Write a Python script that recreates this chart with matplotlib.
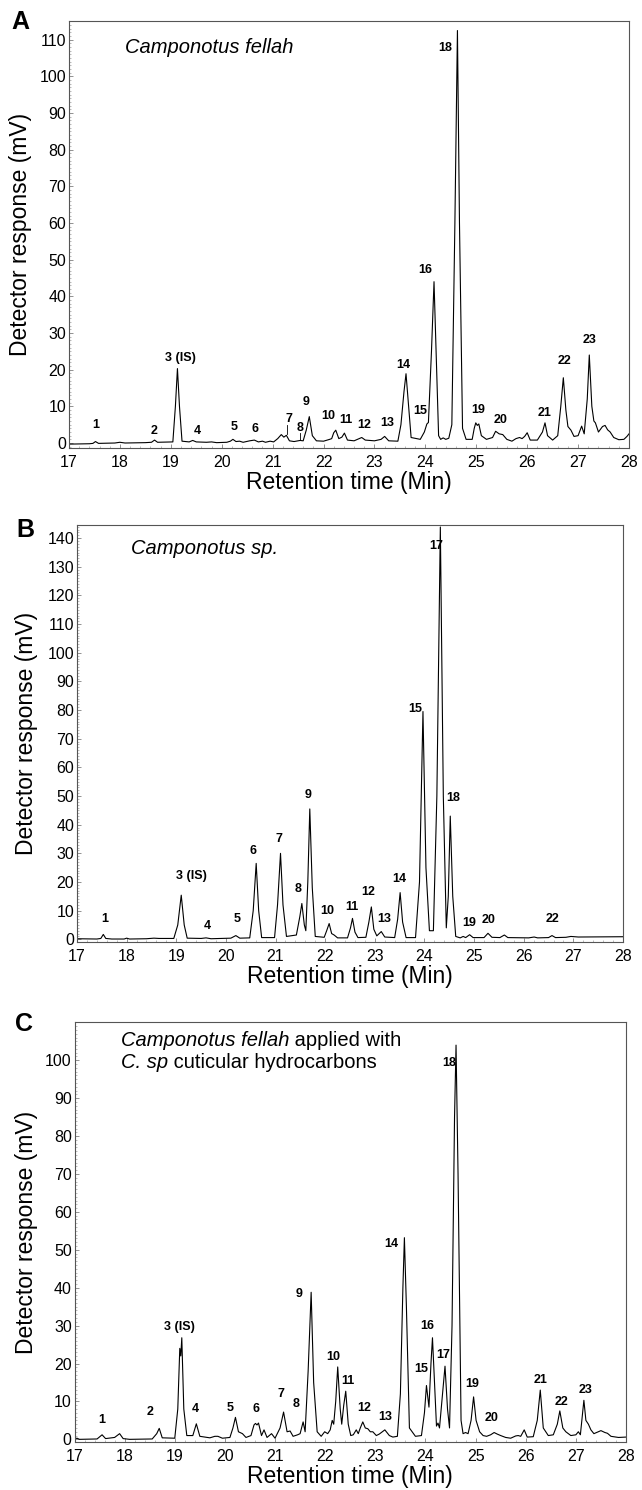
import matplotlib
matplotlib.use("Agg")
import matplotlib.pyplot as plt
from matplotlib.ticker import MultipleLocator

plt.rcParams['font.family'] = ['Liberation Sans', 'DejaVu Sans']

# ---- panel A: Camponotus fellah (time min, response mV) ----
t_a = [17.00, 17.40, 17.47, 17.52, 17.58, 17.90, 18.00, 18.10, 18.50, 18.62, 18.68, 18.74,
       19.04, 19.09, 19.13, 19.17, 19.22, 19.36, 19.43, 19.50, 19.70, 19.80, 19.90, 20.10,
       20.17, 20.22, 20.28, 20.35, 20.42, 20.55, 20.64, 20.72, 20.80, 20.86, 20.95, 21.02,
       21.10, 21.17, 21.22, 21.27, 21.33, 21.42, 21.54, 21.60, 21.66, 21.72, 21.78, 21.86,
       22.00, 22.12, 22.16, 22.20, 22.24, 22.30, 22.36, 22.41, 22.47, 22.60, 22.70, 22.75,
       22.82, 23.00, 23.13, 23.20, 23.28, 23.46, 23.52, 23.58, 23.62, 23.66, 23.72, 23.90,
       23.98, 24.03, 24.06, 24.12, 24.17, 24.21, 24.26, 24.30, 24.35, 24.40, 24.46, 24.52,
       24.58, 24.63, 24.67, 24.73, 24.80, 24.92, 24.96, 24.99, 25.02, 25.05, 25.10, 25.20,
       25.32, 25.38, 25.45, 25.52, 25.60, 25.70, 25.78, 25.85, 25.90, 25.95, 26.00, 26.06,
       26.20, 26.30, 26.35, 26.40, 26.50, 26.60, 26.66, 26.71, 26.76, 26.80, 26.86, 26.92,
       27.00, 27.07, 27.12, 27.18, 27.22, 27.27, 27.31, 27.34, 27.40, 27.48, 27.53, 27.58,
       27.63, 27.70, 27.80, 27.90, 27.96, 28.00]
y_a = [-0.3, -0.2, -0.1, 0.4, -0.1, 0.0, 0.2, 0.0, 0.1, 0.2, 0.8, 0.2,
       0.3, 10.0, 20.3, 10.0, 0.5, 0.3, 0.7, 0.3, 0.2, 0.3, 0.1, 0.2,
       0.5, 1.0, 0.4, 0.5, 0.2, 0.6, 0.8, 0.3, 0.5, 0.2, 0.5, 0.3,
       1.2, 2.3, 1.6, 2.1, 0.6, 0.4, 0.7, 0.6, 3.5, 7.2, 2.0, 0.6,
       0.5, 1.0, 1.2, 2.8, 3.5, 1.2, 1.6, 2.7, 0.8, 0.6, 1.2, 1.5,
       0.8, 0.6, 1.0, 1.8, 0.6, 0.5, 5.0, 14.0, 18.9, 12.0, 1.5, 1.0,
       3.0, 5.2, 5.6, 25.0, 44.0, 25.0, 2.0, 1.0, 1.4, 1.0, 1.3, 5.0,
       60.0, 112.5, 60.0, 4.0, 1.0, 1.0, 4.0, 5.5, 4.8, 5.2, 2.0, 1.0,
       1.5, 3.2, 2.5, 2.3, 1.0, 0.5, 1.2, 1.5, 1.2, 1.8, 2.8, 0.8,
       0.8, 3.0, 5.5, 2.0, 0.8, 2.0, 10.0, 17.8, 9.0, 4.5, 3.5, 1.8,
       2.0, 4.6, 2.5, 12.0, 24.0, 10.0, 6.0, 5.5, 3.0, 4.5, 4.8, 3.6,
       3.0, 1.5, 0.9, 1.0, 1.8, 2.5]
lab_a = ['1', '2', '3 (IS)', '4', '5', '6', '7', '8', '9', '10', '11', '12', '13', '14',
         '15', '16', '18', '19', '20', '21', '22', '23']
lab_a_x = [17.52, 18.68, 19.19, 19.53, 20.25, 20.65, 21.32, 21.54, 21.65, 22.10, 22.44, 22.80,
           23.25, 23.56, 23.90, 24.00, 24.39, 25.03, 25.48, 26.34, 26.73, 27.23]
lab_a_y = [5.0, 3.4, 23.2, 3.2, 4.3, 3.8, 6.5, 4.1, 11.1, 7.5, 6.4, 5.0,
           5.4, 21.4, 8.6, 47.3, 107.8, 9.0, 6.3, 8.3, 22.5, 28.1]
# short leader lines under labels 7 and 8: (x, from y, to y)
lead_a = [(21.28, 5.0, 2.4), (21.54, 2.6, 0.9)]

# ---- panel B: Camponotus sp. ----
t_b = [17.00, 17.40, 17.48, 17.53, 17.58, 17.70, 17.95, 18.00, 18.06, 18.40, 18.55, 18.65,
       18.95, 19.03, 19.10, 19.16, 19.22, 19.50, 19.60, 19.70, 20.10, 20.20, 20.28, 20.48,
       20.55, 20.61, 20.66, 20.72, 20.98, 21.04, 21.10, 21.15, 21.22, 21.42, 21.49, 21.53,
       21.58, 21.61, 21.65, 21.69, 21.74, 21.80, 21.98, 22.03, 22.08, 22.13, 22.18, 22.25,
       22.45, 22.51, 22.55, 22.60, 22.66, 22.82, 22.88, 22.93, 22.98, 23.04, 23.13, 23.20,
       23.40, 23.46, 23.51, 23.56, 23.63, 23.82, 23.90, 23.97, 24.03, 24.10, 24.18, 24.25,
       24.32, 24.38, 24.44, 24.48, 24.52, 24.57, 24.63, 24.72, 24.78, 24.83, 24.91, 24.98,
       25.20, 25.28, 25.36, 25.52, 25.61, 25.68, 26.10, 26.21, 26.28, 26.50, 26.57, 26.64,
       26.85, 26.95, 27.10, 28.00]
y_b = [0.2, 0.1, 0.3, 1.7, 0.3, 0.1, 0.1, 0.4, 0.1, 0.2, 0.4, 0.3,
       0.3, 5.0, 15.4, 5.0, 0.4, 0.3, 0.5, 0.2, 0.4, 1.3, 0.4, 0.5,
       10.0, 26.5, 10.0, 0.6, 0.6, 12.0, 30.0, 12.0, 1.0, 1.5, 8.0, 12.5,
       5.0, 3.0, 20.0, 45.5, 18.0, 1.0, 0.7, 3.0, 5.5, 2.0, 1.5, 0.5,
       0.5, 4.0, 7.3, 2.5, 0.6, 0.7, 6.0, 11.3, 3.5, 1.2, 2.7, 0.8,
       0.6, 7.0, 16.3, 6.0, 0.6, 0.6, 20.0, 79.5, 25.0, 3.0, 3.0, 50.0,
       143.9, 50.0, 4.0, 15.0, 43.0, 15.0, 1.0, 0.5, 1.0, 0.6, 1.6, 0.6,
       0.6, 2.1, 0.7, 0.6, 1.5, 0.6, 0.5, 0.8, 0.5, 0.6, 1.3, 0.6,
       0.7, 1.0, 0.8, 0.9]
lab_b = ['1', '3 (IS)', '4', '5', '6', '7', '8', '9', '10', '11', '12', '13', '14',
         '15', '17', '18', '19', '20', '22']
lab_b_x = [17.55, 19.31, 19.62, 20.22, 20.54, 21.07, 21.45, 21.66, 22.05, 22.53, 22.87, 23.19,
           23.50, 23.81, 24.23, 24.58, 24.90, 25.30, 26.58]
lab_b_y = [7.0, 22.0, 4.8, 7.2, 30.8, 35.1, 17.4, 50.3, 10.0, 11.4, 16.4, 7.2,
           21.2, 80.4, 137.1, 49.4, 5.7, 6.6, 7.2]

# ---- panel C: C. fellah applied with C. sp hydrocarbons ----
t_c = [17.00, 17.05, 17.10, 17.45, 17.55, 17.62, 17.80, 17.90, 17.97, 18.10, 18.55, 18.64,
       18.69, 18.75, 19.00, 19.06, 19.10, 19.12, 19.14, 19.18, 19.24, 19.36, 19.43, 19.50,
       19.70, 19.80, 19.86, 19.95, 20.10, 20.16, 20.21, 20.27, 20.35, 20.42, 20.52, 20.58,
       20.61, 20.64, 20.67, 20.73, 20.78, 20.84, 20.93, 21.00, 21.10, 21.17, 21.24, 21.30,
       21.36, 21.45, 21.50, 21.56, 21.60, 21.66, 21.72, 21.77, 21.84, 21.92, 21.99, 22.05,
       22.10, 22.14, 22.17, 22.21, 22.25, 22.30, 22.33, 22.37, 22.41, 22.46, 22.51, 22.56,
       22.62, 22.66, 22.70, 22.75, 22.80, 22.85, 22.90, 22.95, 23.02, 23.08, 23.19, 23.28,
       23.35, 23.44, 23.50, 23.55, 23.58, 23.62, 23.68, 23.80, 23.92, 23.98, 24.02, 24.07,
       24.11, 24.14, 24.18, 24.22, 24.25, 24.28, 24.34, 24.39, 24.44, 24.48, 24.53, 24.58,
       24.61, 24.65, 24.71, 24.75, 24.80, 24.85, 24.91, 24.96, 25.01, 25.08, 25.15, 25.22,
       25.30, 25.37, 25.43, 25.50, 25.60, 25.70, 25.80, 25.85, 25.90, 25.97, 26.03, 26.15,
       26.23, 26.29, 26.35, 26.45, 26.55, 26.63, 26.68, 26.74, 26.80, 26.90, 27.00, 27.05,
       27.09, 27.12, 27.16, 27.20, 27.25, 27.30, 27.36, 27.45, 27.50, 27.58, 27.63, 27.70,
       27.85, 28.00]
y_c = [0.1, 0.3, 0.0, 0.1, 1.2, 0.2, 0.5, 1.5, 0.2, 0.0, 0.1, 1.5,
       2.9, 0.4, 0.3, 8.0, 24.0, 22.0, 26.8, 8.0, 1.0, 1.0, 4.1, 0.8,
       0.4, 0.8, 0.8, 0.3, 0.5, 3.0, 5.8, 2.0, 1.5, 0.5, 1.0, 3.8,
       4.2, 3.8, 4.3, 1.0, 2.5, 0.5, 1.5, 0.3, 3.0, 7.2, 2.0, 2.2,
       0.8, 1.2, 1.5, 4.6, 2.0, 18.0, 38.8, 15.0, 2.0, 0.8, 2.0, 1.5,
       2.5, 5.0, 4.0, 10.0, 19.1, 8.0, 4.0, 9.0, 12.7, 4.0, 1.0, 1.2,
       2.5, 1.5, 3.0, 4.6, 3.0, 2.8, 2.0, 2.0, 1.0, 1.4, 2.5, 1.0,
       0.6, 0.8, 12.0, 40.0, 53.2, 35.0, 3.0, 0.8, 1.0, 7.0, 14.2, 8.5,
       20.0, 26.8, 15.0, 3.5, 4.3, 3.0, 12.0, 19.3, 8.0, 3.0, 30.0, 85.0,
       104.0, 70.0, 5.0, 1.5, 1.8, 1.5, 5.0, 11.2, 5.0, 2.0, 1.0, 0.8,
       1.2, 1.8, 1.4, 1.0, 0.5, 0.3, 0.9, 1.0, 0.8, 2.5, 0.6, 0.7,
       5.0, 13.0, 3.0, 1.0, 1.2, 4.0, 7.5, 3.0, 2.0, 1.0, 1.2, 2.0,
       1.2, 5.0, 10.3, 5.0, 4.0, 2.5, 1.5, 2.0, 2.3, 1.8, 1.6, 0.8,
       0.5, 0.6]
lab_c = ['1', '2', '3 (IS)', '4', '5', '6', '7', '8', '9', '10', '11', '12', '13', '14',
         '15', '16', '17', '18', '19', '20', '21', '22', '23']
lab_c_x = [17.55, 18.50, 19.09, 19.41, 20.10, 20.62, 21.11, 21.42, 21.48, 22.17, 22.46, 22.78,
           23.19, 23.31, 23.91, 24.04, 24.36, 24.47, 24.94, 25.32, 26.29, 26.72, 27.19]
lab_c_y = [5.0, 7.3, 29.6, 8.0, 8.3, 8.0, 11.9, 9.3, 38.4, 21.7, 15.3, 8.4,
           5.8, 51.5, 18.5, 30.0, 22.3, 99.3, 14.5, 5.5, 15.6, 9.8, 13.1]

W, H = 642, 1490
fig = plt.figure(figsize=(W / 100, H / 100), dpi=100)

# axes boxes in pixels: left, right, top, bottom
boxes = [(69, 629, 21, 448), (77, 623, 525, 942), (74.5, 626, 1022, 1442)]
ylims = [(-1.36, 115.1), (-0.94, 144.6), (-0.7, 110.1)]
yticks = [range(0, 111, 10), range(0, 141, 10), range(0, 101, 10)]
ylab_x = [-0.066, -0.071, -0.066]
letters = ['A', 'B', 'C']
letter_pos = [(20, 22), (25, 530), (24, 1024)]
traces = [(t_a, y_a), (t_b, y_b), (t_c, y_c)]
labels = [(lab_a, lab_a_x, lab_a_y), (lab_b, lab_b_x, lab_b_y), (lab_c, lab_c_x, lab_c_y)]

axes = []
for i in range(3):
    l, r, tp, bt = boxes[i]
    ax = fig.add_axes([l / W, 1 - bt / H, (r - l) / W, (bt - tp) / H])
    axes.append(ax)
    t, y = traces[i]
    ax.plot(t, y, color='black', lw=0.8)
    ax.set_xlim(17, 28)
    ax.set_ylim(*ylims[i])
    ax.set_xticks(range(17, 29))
    ax.set_yticks(list(yticks[i]))
    ax.xaxis.set_minor_locator(MultipleLocator(0.2))
    ax.yaxis.set_minor_locator(MultipleLocator(1))
    ax.tick_params(which='major', direction='in', length=3, width=0.5, color='#666',
                   labelsize=11.5)
    ax.tick_params(axis='x', which='major', pad=5)
    ax.tick_params(axis='y', which='major', pad=2)
    ax.tick_params(which='minor', direction='in', length=1.5, width=0.4, color='#888')
    for s in ax.spines.values():
        s.set_color('#555')
        s.set_linewidth(0.8)
    ax.set_xlabel('Retention time (Min)', fontsize=16.5, labelpad=1)
    ax.set_ylabel('Detector response (mV)', fontsize=16.5)
    ax.yaxis.set_label_coords(ylab_x[i], 0.5)
    names, lx, ly = labels[i]
    for n, x, yy in zip(names, lx, ly):
        ax.text(x, yy, n, fontsize=9, fontweight='bold', ha='center', va='center')
    fig.text(letter_pos[i][0] / W, 1 - letter_pos[i][1] / H, letters[i], fontsize=18,
             fontweight='bold', ha='center', va='center')

for x, y0, y1 in lead_a:
    axes[0].plot([x, x], [y0, y1], color='black', lw=0.6)

axes[0].text(18.1, 107.8, 'Camponotus fellah', fontsize=14.5, style='italic', va='center')
axes[1].text(18.08, 136.3, 'Camponotus sp.', fontsize=14.5, style='italic', va='center')

# two-line caption in panel C, italic species names followed by upright text
fig.canvas.draw()
renderer = fig.canvas.get_renderer()
axc = axes[2]
lines_c = [('Camponotus fellah', ' applied with', 105.3), ('C. sp', ' cuticular hydrocarbons', 99.3)]
for it, rest, yy in lines_c:
    t1 = axc.text(17.92, yy, it, fontsize=14.5, style='italic', va='center')
    bb = t1.get_window_extent(renderer)
    xr = axc.transData.inverted().transform((bb.x1, bb.y0))[0]
    axc.text(xr, yy, rest, fontsize=14.5, va='center')

fig.savefig('out.png', dpi=100)
